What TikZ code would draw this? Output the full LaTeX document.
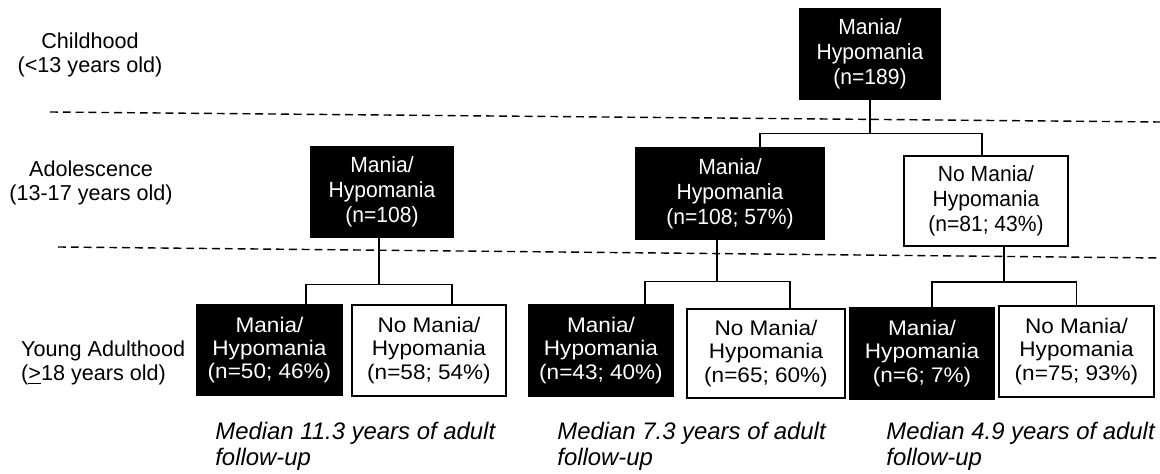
\documentclass[tikz,border=0pt]{standalone}
\usepackage{fontspec}
\setmainfont{Liberation Sans}
\newfontfamily\widesans[FakeStretch=1.07]{Liberation Sans}
\newfontfamily\narrowsans[FakeStretch=0.96]{Liberation Sans}

\begin{document}
\begin{tikzpicture}[
        every node/.style={font=\fontsize{12.3}{13.6}\selectfont},
        blackbox/.style={draw=black, fill=black, text=white, align=center,
            minimum height=1.82cm, inner sep=0pt, line width=0.8pt,
            font=\narrowsans\fontsize{12.5}{14.2}\selectfont},
        whitebox/.style={draw=black, fill=white, text=black, align=center,
            minimum height=1.82cm, inner sep=0pt, line width=0.8pt,
            font=\narrowsans\fontsize{12.5}{14.2}\selectfont},
        lowbox/.style={font=\widesans\fontsize{12}{13.3}\selectfont},
        link/.style={line width=0.8pt},
        agebreak/.style={dash pattern=on 4.5pt off 2.8pt, line width=0.8pt},
        stage/.style={align=center},
        followup/.style={align=left, anchor=north west, inner sep=0pt,
            font=\itshape\fontsize{13.6}{15.2}\selectfont}
    ]
                \useasboundingbox (0,0) rectangle (23.2,-9.48);

                \draw[agebreak] (1.0,-2.24) -- (23.2,-2.44);
                \draw[agebreak] (1.16,-4.94) -- (23.2,-5.16);

                \node[stage] (child) at (1.8,-1.09) {Childhood\\(<13 years old)};
                \node[stage] (adol) at (1.82,-3.66) {Adolescence\\(13-17 years old)};
                \node[stage, align=left, anchor=west] (young) at (0.3,-7.26)
                    {Young Adulthood\\(\underline{>}18 years old)};

                \node[blackbox, minimum width=2.8cm] (top) at (17.4,-1.08)
                    {Mania/\\Hypomania\\(n=189)};

                \node[blackbox, minimum width=2.84cm] (adoM) at (7.64,-3.84)
                    {Mania/\\Hypomania\\(n=108)};
                \node[blackbox, minimum width=3.76cm] (adoMp) at (14.6,-3.87)
                    {Mania/\\Hypomania\\(n=108; 57\%)};
                \node[whitebox, minimum width=3.28cm, minimum height=1.8cm] (adoN) at (19.72,-4.02)
                    {No Mania/\\Hypomania\\(n=81; 43\%)};

                \node[blackbox, lowbox, minimum width=2.9cm] (ya1) at (5.39,-7.0)
                    {Mania/\\Hypomania\\(n=50; 46\%)};
                \node[whitebox, lowbox, minimum width=3.08cm] (ya2) at (8.58,-7.01)
                    {No Mania/\\Hypomania\\(n=58; 54\%)};
                \node[blackbox, lowbox, minimum width=2.88cm] (ya3) at (12.02,-7.01)
                    {Mania/\\Hypomania\\(n=43; 40\%)};
                \node[whitebox, lowbox, minimum width=3.16cm, minimum height=1.78cm] (ya4) at (15.32,-7.07)
                    {No Mania/\\Hypomania\\(n=65; 60\%)};
                \node[blackbox, lowbox, minimum width=2.88cm] (ya5) at (18.44,-7.07)
                    {Mania/\\Hypomania\\(n=6; 7\%)};
                \node[whitebox, lowbox, minimum width=3.1cm] (ya6) at (21.53,-7.03)
                    {No Mania/\\Hypomania\\(n=75; 93\%)};

                \draw[link] (top.south) -- ++(0,-0.67) coordinate (split1);
                \draw[link] ([xshift=6mm]adoMp.north) |- (split1) -| ([xshift=-0.8mm]adoN.north);

                \draw[link] ([xshift=-0.6mm]adoM.south) -- ++(0,-0.93) coordinate (split2);
                \draw[link] ([xshift=7.3mm]ya1.north) |- (split2) -| ([xshift=4.6mm]ya2.north);

                \draw[link] ([xshift=-2.6mm]adoMp.south) -- ++(0,-0.84) coordinate (split3);
                \draw[link] ([xshift=8.8mm]ya3.north) |- (split3) -| ([xshift=4.8mm]ya4.north);

                \draw[link] ([xshift=3.6mm]adoN.south) -- ++(0,-0.71) coordinate (split4);
                \draw[link] ([xshift=2mm]ya5.north) |- (split4) -| (ya6.north);

                \node[followup] (med1) at (4.3,-8.43) {Median 11.3 years of adult\\follow-up};
                \node[followup] (med2) at (11.14,-8.43) {Median 7.3 years of adult\\follow-up};
                \node[followup] (med3) at (17.72,-8.43) {Median 4.9 years of adult\\follow-up};

            \end{tikzpicture}
\end{document}
